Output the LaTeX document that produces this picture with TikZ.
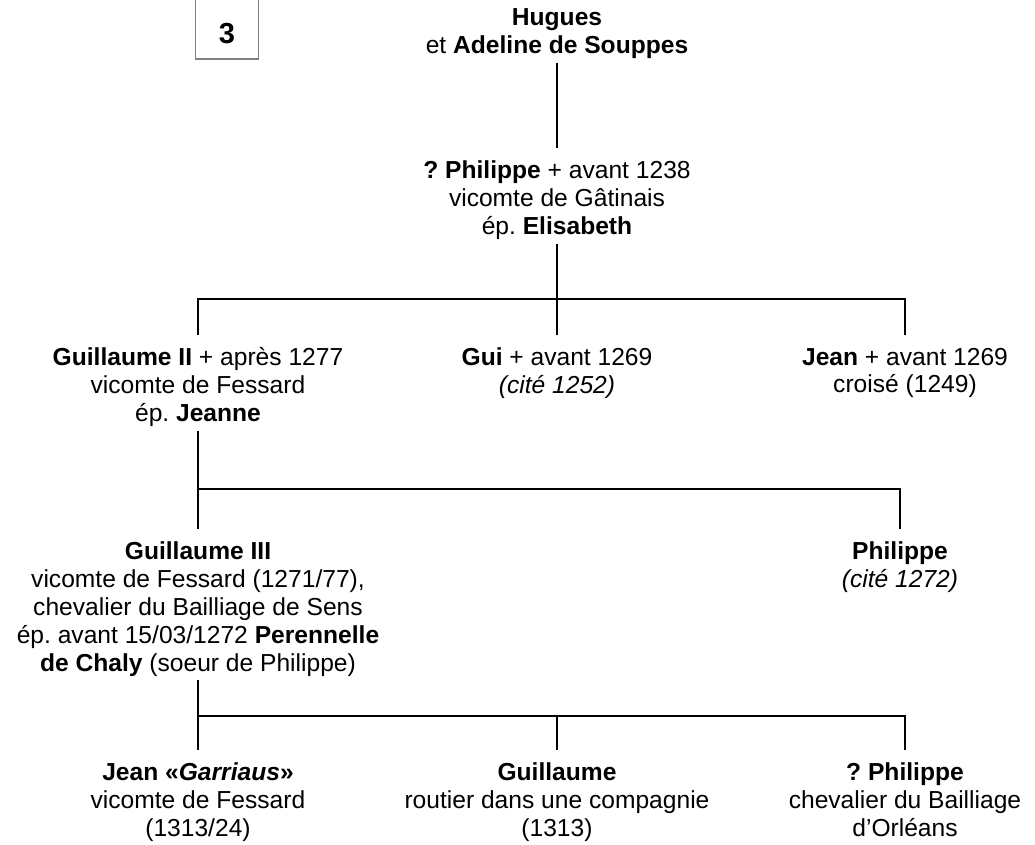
\documentclass[tikz,border=0pt]{standalone}
\usepackage{fontspec}
\setmainfont{Liberation Sans}
\usetikzlibrary{positioning,calc}
\frenchspacing
\tikzset{
	pers/.style={align=center, inner xsep=2pt, inner ysep=2pt, anchor=north, font=\fontsize{14}{15.9}\selectfont},
	edge/.style={color=black, line width=1.4pt},
	numbox/.style={draw=gray, line width=0.6pt, anchor=base, inner sep=0pt, minimum width=1.26cm, text height=1.06cm, text depth=0.32cm, font=\fontsize{16.5}{18}\selectfont\bfseries}
}

\begin{document}
\begin{tikzpicture}[x=0.02cm, y=-0.02cm]
		% Variables for distances (in pixels)
		\def\xl{198} % left column
		\def\xm{557} % middle column
		\def\xr{905} % right column
		\useasboundingbox (0,0) rectangle (1035,845);
		
		\node[numbox] (num) at (227,43) {3};
		
		\node[pers] (hugues) at (\xm,5) {\textbf{Hugues}\\ et \textbf{Adeline de Souppes}};
		\node[pers] (philippe) at (\xm,157) {\textbf{? Philippe} + avant 1238\\ vicomte de Gâtinais\\ ép. \textbf{Elisabeth}};
		
		\node[pers] (guilII) at (\xl,344) {\textbf{Guillaume II} + après 1277\\ vicomte de Fessard\\ ép. \textbf{Jeanne}};
		\node[pers] (gui) at (\xm,344) {\textbf{Gui} + avant 1269\\ \textit{(cité 1252)}};
		\node[pers] (jean) at (\xr,344) {\textbf{Jean} + avant 1269\\ croisé (1249)};
		
		\node[pers] (guilIII) at (\xl,538) {\textbf{Guillaume III}\\ vicomte de Fessard (1271/77),\\ chevalier du Bailliage de Sens\\ ép. avant 15/03/1272 \textbf{Perennelle}\\ \textbf{de Chaly} (soeur de Philippe)};
		\node[pers] (philcite) at (900,538) {\textbf{Philippe}\\ \textit{(cité 1272)}};
		
		\node[pers] (jeangar) at (\xl,759) {\textbf{Jean «\textit{Garriaus}»}\\ vicomte de Fessard\\ (1313/24)};
		\node[pers] (guilrout) at (\xm,759) {\textbf{Guillaume}\\ routier dans une compagnie\\ (1313)};
		\node[pers] (philorl) at (\xr,759) {\textbf{? Philippe}\\ chevalier du Bailliage\\ d’Orléans};
		
		% bars between generations
		\coordinate (bar1) at (\xm,299);
		\coordinate (bar2) at (\xl,489);
		\coordinate (bar3) at (\xl,716);
		
		\draw[edge] (hugues) -- ([yshift=5pt]philippe.north);
		\draw[edge] (philippe) -- (bar1);
		\draw[edge] ([yshift=5pt]guilII.north) |- (bar1) -| ([yshift=5pt]jean.north);
		\draw[edge] (bar1) -- ([yshift=5pt]gui.north);
		
		\draw[edge] (guilII) -- (bar2) -| ([yshift=5pt]philcite.north);
		\draw[edge] (bar2) -- ([yshift=5pt]guilIII.north);
		
		\draw[edge] (guilIII) -- (bar3) -| ([yshift=5pt]philorl.north);
		\draw[edge] (bar3) -- ([yshift=5pt]jeangar.north);
		\draw[edge] (bar3 -| guilrout) -- ([yshift=5pt]guilrout.north);
		
	\end{tikzpicture}
\end{document}
